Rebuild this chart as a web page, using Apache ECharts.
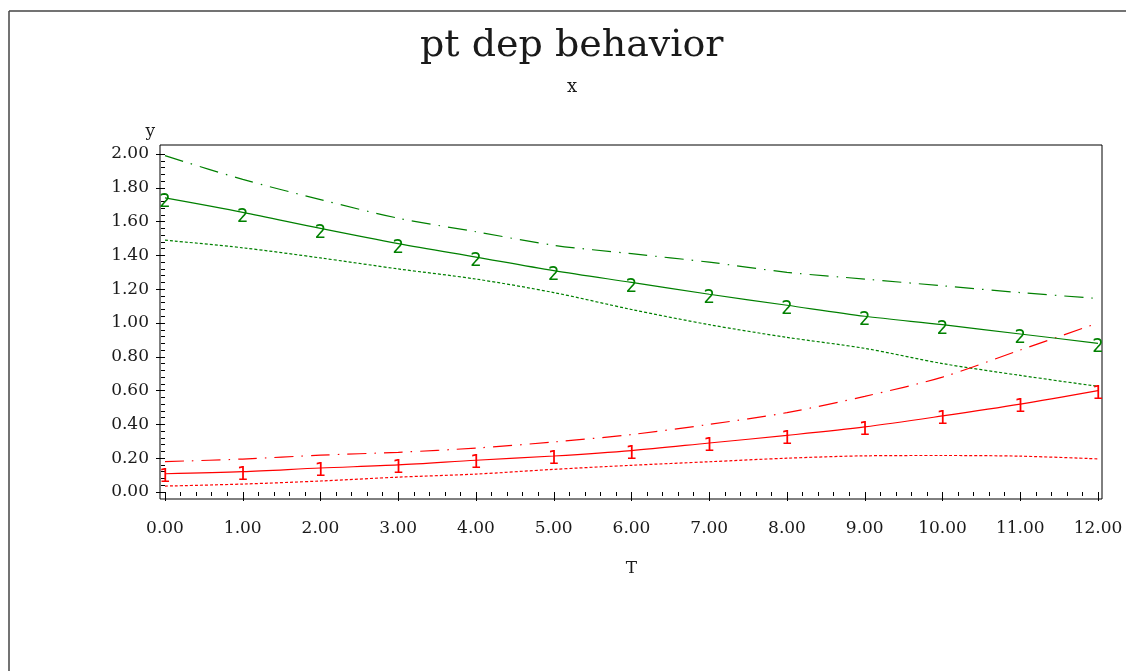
<!DOCTYPE html>
<html>
<head>
<meta charset="utf-8">
<script src="https://cdn.jsdelivr.net/npm/echarts@6/dist/echarts.min.js"></script>
<style>html,body{margin:0;padding:0;background:#fff;}#c{width:1126px;height:671px;}</style>
</head>
<body>
<div id="c"></div>
<script>
const T = [0,1,2,3,4,5,6,7,8,9,10,11,12];
const greenSolid   = [1.74, 1.655, 1.56, 1.47, 1.39, 1.31, 1.24, 1.17, 1.105, 1.04, 0.99, 0.935, 0.88];
const greenDashDot = [1.99, 1.85, 1.73, 1.62, 1.54, 1.46, 1.41, 1.36, 1.30, 1.26, 1.22, 1.18, 1.145];
const greenDotted  = [1.49, 1.445, 1.385, 1.32, 1.26, 1.18, 1.08, 0.99, 0.915, 0.85, 0.76, 0.69, 0.625];
const redSolid     = [0.108, 0.12, 0.142, 0.16, 0.188, 0.213, 0.245, 0.29, 0.335, 0.385, 0.45, 0.52, 0.60];
const redDashDot   = [0.18, 0.195, 0.218, 0.235, 0.26, 0.296, 0.34, 0.40, 0.47, 0.566, 0.68, 0.84, 1.00];
const redDotted    = [0.035, 0.047, 0.065, 0.088, 0.106, 0.134, 0.158, 0.179, 0.20, 0.214, 0.216, 0.212, 0.196];
const xTickLabels = ['0.00','1.00','2.00','3.00','4.00','5.00','6.00','7.00','8.00','9.00','10.00','11.00','12.00'];
const yTickLabels = ['0.00','0.20','0.40','0.60','0.80','1.00','1.20','1.40','1.60','1.80','2.00'];

const GREEN = '#008000', RED = '#ff0000';
const pairs = arr => T.map((t,i) => [t, arr[i]]);
const markFont = "'Liberation Sans Narrow','DejaVu Sans Condensed','DejaVu Sans',sans-serif";

function lineSeries(arr, color, type, marker){
  const s = {
    type: 'line', xAxisIndex: 0, yAxisIndex: 0,
    data: pairs(arr), smooth: 0.3,
    lineStyle: {color: color, width: 1.2, type: type},
    symbol: marker ? 'circle' : 'none', symbolSize: 1,
    itemStyle: {color: 'transparent'},
    emphasis: {disabled: true},
    silent: true, animation: false, z: marker ? 3 : 2
  };
  if (marker) {
    s.label = {show: true, position: 'inside', offset: [0, marker === '2' ? 4 : 3],
      formatter: marker, color: color, fontSize: 20, fontFamily: markFont};
  }
  return s;
}

const serif = "'DejaVu Serif', serif";
const chart = echarts.init(document.getElementById('c'), null, {renderer: 'canvas'});
chart.setOption({
  animation: false,
  backgroundColor: '#fff',
  graphic: [
    {type: 'line', shape: {x1: 9, y1: 11, x2: 1126, y2: 11}, style: {stroke: '#444', lineWidth: 1.5}},
    {type: 'line', shape: {x1: 9, y1: 11, x2: 9, y2: 671}, style: {stroke: '#444', lineWidth: 1.5}},
    {type: 'text', left: 572 - 152, top: 27, style: {text: 'pt dep behavior', font: "38px 'DejaVu Serif', serif", fill: '#1a1a1a', textAlign: 'left'}},
    {type: 'text', left: 567, top: 78, style: {text: 'x', font: "18px 'DejaVu Serif', serif", fill: '#1a1a1a'}}
  ],
  grid: [
    {left: 165, right: 28, top: 154, bottom: 179, show: false},
    {left: 160, top: 145, width: 942, height: 354, show: true, borderColor: '#000', borderWidth: 1, backgroundColor: 'transparent'}
  ],
  xAxis: [
    {type: 'value', gridIndex: 0, min: 0, max: 12, interval: 1, offset: 7,
     name: 'T', nameLocation: 'middle', nameGap: 61,
     nameTextStyle: {fontFamily: serif, fontSize: 17, color: '#1a1a1a'},
     axisLine: {show: false},
     axisTick: {show: true, length: 9, lineStyle: {color: '#000'}},
     minorTick: {show: true, splitNumber: 5, length: 4, lineStyle: {color: '#000'}},
     splitLine: {show: false},
     axisLabel: {margin: 21, fontFamily: serif, fontSize: 17, color: '#1a1a1a',
       formatter: v => xTickLabels[Math.round(v)]}},
    {type: 'value', gridIndex: 1, show: false, min: 0, max: 1}
  ],
  yAxis: [
    {type: 'value', gridIndex: 0, min: 0, max: 2, interval: 0.2, offset: 5,
     name: 'y', nameLocation: 'end', nameGap: 14,
     nameTextStyle: {fontFamily: serif, fontSize: 17, color: '#1a1a1a', align: 'right', padding: [0, 10, 0, 0]},
     axisLine: {show: false},
     axisTick: {show: true, length: 9, lineStyle: {color: '#000'}},
     minorTick: {show: true, splitNumber: 5, length: 4, lineStyle: {color: '#000'}},
     splitLine: {show: false},
     axisLabel: {margin: 11, fontFamily: serif, fontSize: 17, color: '#1a1a1a',
       formatter: v => yTickLabels[Math.round(v * 5)]}},
    {type: 'value', gridIndex: 1, show: false, min: 0, max: 1}
  ],
  series: [
    lineSeries(greenDashDot, GREEN, [19, 8, 1.5, 8], null),
    lineSeries(greenSolid, GREEN, 'solid', '2'),
    lineSeries(greenDotted, GREEN, [3, 2], null),
    lineSeries(redDashDot, RED, [19, 8, 1.5, 8], null),
    lineSeries(redSolid, RED, 'solid', '1'),
    lineSeries(redDotted, RED, [3, 2], null)
  ]
});
</script>
</body>
</html>
